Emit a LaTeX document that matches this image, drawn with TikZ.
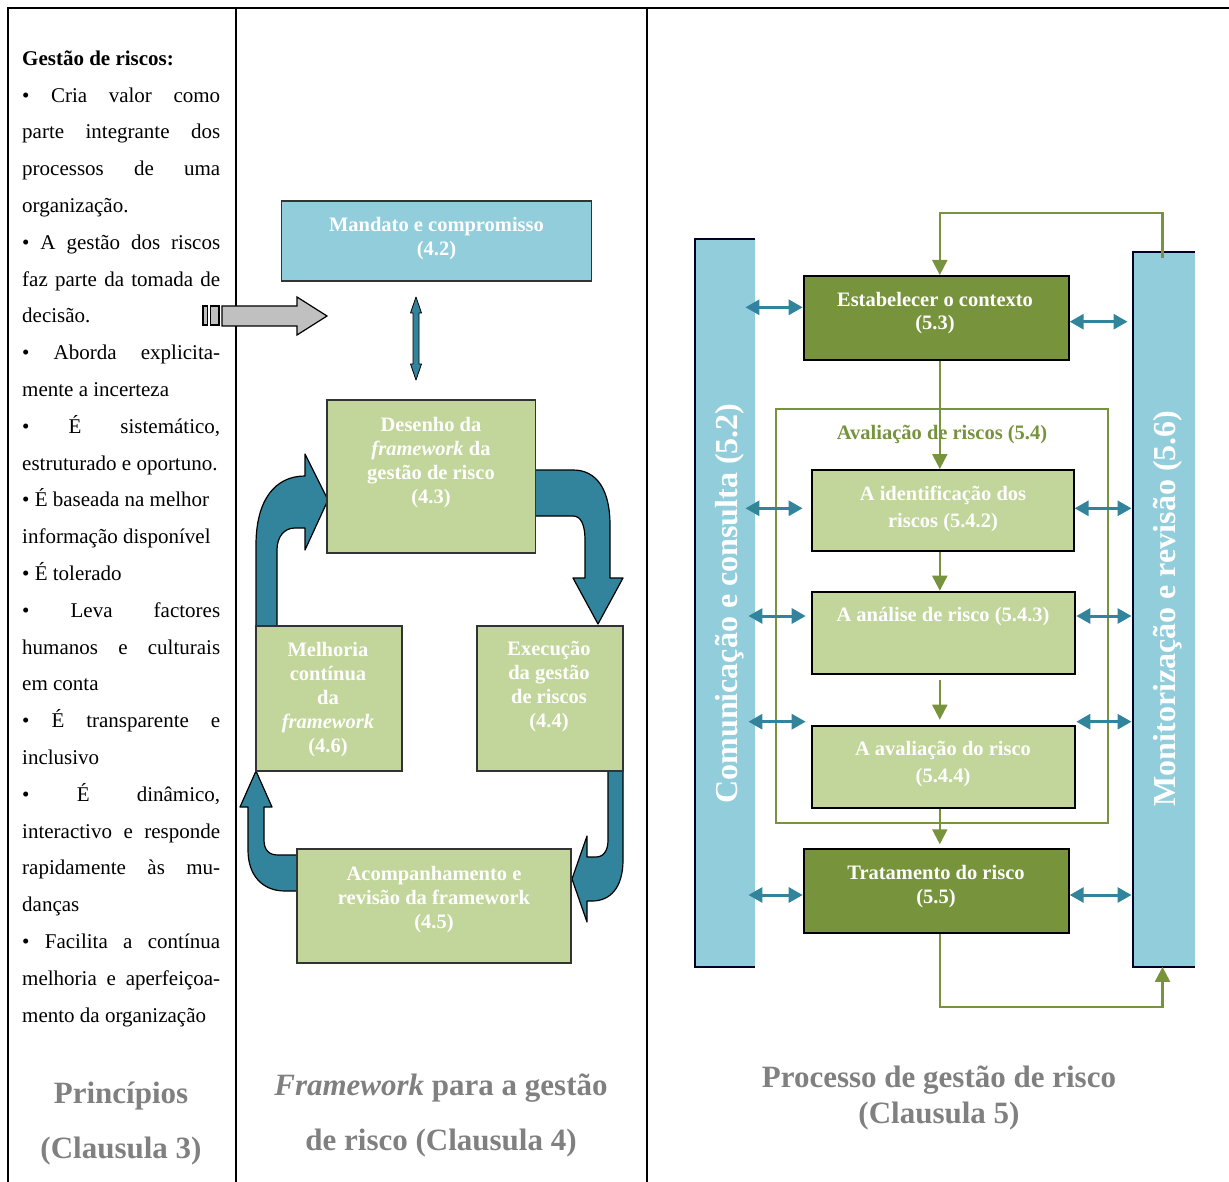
\documentclass[tikz,border=0pt]{standalone}
\usepackage{fontspec}
\setmainfont{Liberation Serif}
\usetikzlibrary{arrows.meta}
\definecolor{lblue}{HTML}{92CDDC}
\definecolor{teal2}{HTML}{31849B}
\definecolor{dgreen}{HTML}{77933C}
\definecolor{lgreen}{HTML}{C2D69B}
\definecolor{garrow}{HTML}{C0C0C0}
\definecolor{gtext}{HTML}{808080}
\begin{document}
\begin{tikzpicture}[x=1pt,y=-1pt,
  btxt/.style={text=white, font=\bfseries\fontsize{20.5}{24}\selectfont, align=center, inner sep=0pt},
  mbox/.style={draw=black!80, line width=1.4pt, fill=lgreen, inner sep=0pt},
  rbox/.style={draw=black, line width=2pt, inner sep=0pt},
  tarr/.style={draw=teal2, line width=3pt, {Triangle[width=15pt,length=14pt]}-{Triangle[width=15pt,length=14pt]}},
  garr/.style={draw=dgreen, line width=2.2pt, -{Triangle[width=15pt,length=15pt]}},
  blockarr/.style={fill=teal2, draw=black, line width=1.2pt, line join=round},
  gtitle/.style={text=gtext, font=\bfseries\fontsize{31}{55}\selectfont, align=center, inner sep=0pt},
  tableline/.style={draw=black, line width=2.3pt},
  barline/.style={draw=black!85!blue, line width=2pt},
  bartxt/.style={text=white, font=\bfseries\fontsize{32}{36}\selectfont, inner sep=0pt, rotate=90}
]
\useasboundingbox (0,0) rectangle (1229,1182);

% table lines
\draw[tableline] (1229,8) -- (8,8) -- (8,1182);
\draw[tableline] (236,8) -- (236,1182);
\draw[tableline] (647,8) -- (647,1182);

% left column text
\node[anchor=north west, text width=198pt, align=justify, inner sep=0pt,
      font=\fontsize{21}{36.8}\selectfont] (principles) at (22,50.5) {%
\parindent=0pt\tolerance=10000\hyphenpenalty=10000
\textbf{Gestão de riscos:}\par
• Cria valor como\linebreak parte integrante dos\linebreak processos de uma\linebreak organização.\par
• A gestão dos riscos\linebreak faz parte da tomada de\linebreak decisão.\par
• Aborda explicita-\linebreak mente a incerteza\par
• É sistemático,\linebreak estruturado e oportuno.\par
• É baseada na melhor\par
informação disponível\par
• É tolerado\par
• Leva factores\linebreak humanos e culturais\linebreak em conta\par
• É transparente e\linebreak inclusivo\par
• É dinâmico,\linebreak interactivo e responde\linebreak rapidamente às mu-\linebreak danças\par
• Facilita a contínua\linebreak melhoria e aperfeiçoa-\linebreak mento da organização\par};

\node[gtitle] (t1) at (121,1124) {Princípios\\(Clausula 3)};
\node[gtitle] (t2) at (441,1115.5) {\textit{Framework} para a gestão\\de risco (Clausula 4)};
\node[gtitle, font=\bfseries\fontsize{31}{36}\selectfont] (t3) at (939,1098) {Processo de gestão de risco\\(Clausula 5)};

% middle column: block arrows (drawn first)
\draw[blockarr] (535,470) -- (573,470) .. controls (597,470) and (610,490) .. (610,525) -- (610,578) -- (623,578) -- (598,624) -- (573,578) -- (585,578) -- (585,540) .. controls (585,525) and (581,516) .. (573,516) -- (535,516) -- cycle;
\draw[blockarr] (608,771) -- (623,771) -- (623,860) .. controls (623,888) and (610,901) .. (592,901) -- (587,901) -- (587,922) -- (572,879) -- (587,836) -- (587,857) -- (596,857) .. controls (604,857) and (608,850) .. (608,840) -- cycle;
\draw[blockarr] (297,855) -- (278,855) .. controls (269,855) and (264,850) .. (264,840) -- (264,807) -- (272,807) -- (256,771) -- (240,807) -- (248,807) -- (248,850) .. controls (248,875) and (262,891) .. (285,891) -- (297,891) -- cycle;
\draw[blockarr] (256,626) -- (256,545) .. controls (256,500) and (275,476) .. (305,476) -- (305,454) -- (328,500) -- (305,550) -- (305,528) -- (295,528) .. controls (284,528) and (277,537) .. (277,550) -- (277,626) -- cycle;

% middle boxes
\node[mbox, fill=lblue, minimum width=310pt, minimum height=80pt] (mandato) at (436.7,241) {};
\node[mbox, minimum width=208.5pt, minimum height=153pt] (desenho) at (431.3,476.5) {};
\node[mbox, minimum width=146pt, minimum height=145pt] (melhoria) at (329,698.5) {};
\node[mbox, minimum width=146pt, minimum height=145pt] (execucao) at (550,698.5) {};
\node[mbox, minimum width=274pt, minimum height=114pt] (acomp) at (434,906) {};

\node[btxt] at (436.5,239) {Mandato e compromisso\\(4.2)};
\node[btxt] at (431,462.5) {Desenho da\\\textit{framework} da\\gestão de risco\\(4.3)};
\node[btxt] at (328,700) {Melhoria\\contínua\\da\\\textit{framework}\\(4.6)};
\node[btxt] at (549,687) {Execução\\da gestão\\de riscos\\(4.4)};
\node[btxt] at (434,899.5) {Acompanhamento e\\revisão da framework\\(4.5)};

% gray block arrow
\draw[fill=garrow, draw=black, line width=1.2pt] (222,306) -- (297,306) -- (297,297) -- (327,316) -- (297,335) -- (297,326) -- (222,326) -- cycle;
\draw[fill=garrow, draw=black, line width=1.2pt] (203,306) rectangle (207.5,325);
\draw[fill=garrow, draw=black, line width=1.2pt] (210.5,306) rectangle (219,325);

% vertical double arrow
\draw[fill=teal2, draw=black, line width=0.8pt, line join=round] (416,297) -- (421.5,313) -- (419,313) -- (419,364) -- (421.5,364) -- (416,380) -- (410.5,364) -- (413,364) -- (413,313) -- (410.5,313) -- cycle;

% right column
\node[fill=lblue, inner sep=0pt, minimum width=60.5pt, minimum height=727.4pt] (leftbar) at (725,603) {};
\draw[barline] (leftbar.north east) -- (leftbar.north west) -- (leftbar.south west) -- (leftbar.south east);
\node[fill=lblue, inner sep=0pt, minimum width=62pt, minimum height=714pt] (rightbar) at (1163.7,609.7) {};
\draw[barline] (rightbar.north east) -- (rightbar.north west) -- (rightbar.south west) -- (rightbar.south east);
\node[bartxt] at (730,603.5) {Comunicação e consulta (5.2)};
\node[bartxt] at (1168,608.5) {Monitorização e revisão (5.6)};

\node[draw=dgreen, line width=2pt, inner sep=0pt, minimum width=332.3pt, minimum height=413.4pt] (avframe) at (941.8,616) {};
\node[btxt, text=dgreen] (avtitle) at (942,435) {Avaliação de riscos (5.4)};

\node[rbox, fill=dgreen, minimum width=265pt, minimum height=84pt] (estab) at (936.2,318) {};
\node[rbox, fill=lgreen, minimum width=262pt, minimum height=81pt] (ident) at (942.6,510.5) {};
\node[rbox, fill=lgreen, minimum width=263.6pt, minimum height=82.6pt] (analise) at (943.5,633) {};
\node[rbox, fill=lgreen, minimum width=263.6pt, minimum height=82pt] (avalia) at (943.5,766.7) {};
\node[rbox, fill=dgreen, minimum width=265pt, minimum height=84pt] (trat) at (936.2,891.3) {};

\node[btxt, font=\bfseries\fontsize{20.5}{23}\selectfont] at (935,313.5) {Estabelecer o contexto\\(5.3)};
\node[btxt, font=\bfseries\fontsize{20.5}{27}\selectfont] at (943,508.5) {A identificação dos\\riscos (5.4.2)};
\node[btxt] at (943,617) {A análise de risco (5.4.3)};
\node[btxt, font=\bfseries\fontsize{20.5}{27}\selectfont] at (943,764.5) {A avaliação do risco\\(5.4.4)};
\node[btxt] at (936,887) {Tratamento do risco\\(5.5)};

% green connectors
\coordinate (axis) at (939.8,0);
\coordinate (loopx) at (1162.5,0);
\draw[garr] (rightbar.north -| loopx) ++(0,6) -- (loopx |- 0,213.3) -- (axis |- 0,213.3) -- (estab.north -| axis);
\draw[garr] (estab.south -| axis) -- (ident.north -| axis);
\draw[garr] (ident.south -| axis) -- (analise.north -| axis);
\draw[garr, shorten <=5pt, shorten >=5pt] (analise.south -| axis) -- (avalia.north -| axis);
\draw[garr, shorten >=4pt] (avalia.south -| axis) -- (trat.north -| axis);
\draw[garr] (trat.south -| axis) -- (axis |- 0,1006.7) -- (loopx |- 0,1006.7) -- (rightbar.south -| loopx);

% teal double arrows
\draw[tarr, shorten <=-10pt] (leftbar.east |- 0,307.3) -- (estab.west |- 0,307.3);
\draw[tarr, shorten <=-10pt, shorten >=8pt] (leftbar.east |- 0,508.3) -- (ident.west |- 0,508.3);
\draw[tarr, shorten <=-7pt, shorten >=5pt] (leftbar.east |- 0,616) -- (analise.west |- 0,616);
\draw[tarr, shorten <=-7pt, shorten >=5pt] (leftbar.east |- 0,721.7) -- (avalia.west |- 0,721.7);
\draw[tarr, shorten <=-7pt] (leftbar.east |- 0,895) -- (trat.west |- 0,895);
\draw[tarr, shorten >=5pt] (estab.east |- 0,321.7) -- (rightbar.west |- 0,321.7);
\draw[tarr, shorten >=1pt] (ident.east |- 0,508.3) -- (rightbar.west |- 0,508.3);
\draw[tarr, shorten >=1pt] (analise.east |- 0,616) -- (rightbar.west |- 0,616);
\draw[tarr, shorten >=1pt] (avalia.east |- 0,721.7) -- (rightbar.west |- 0,721.7);
\draw[tarr, shorten >=1pt] (trat.east |- 0,895) -- (rightbar.west |- 0,895);
\end{tikzpicture}
\end{document}
